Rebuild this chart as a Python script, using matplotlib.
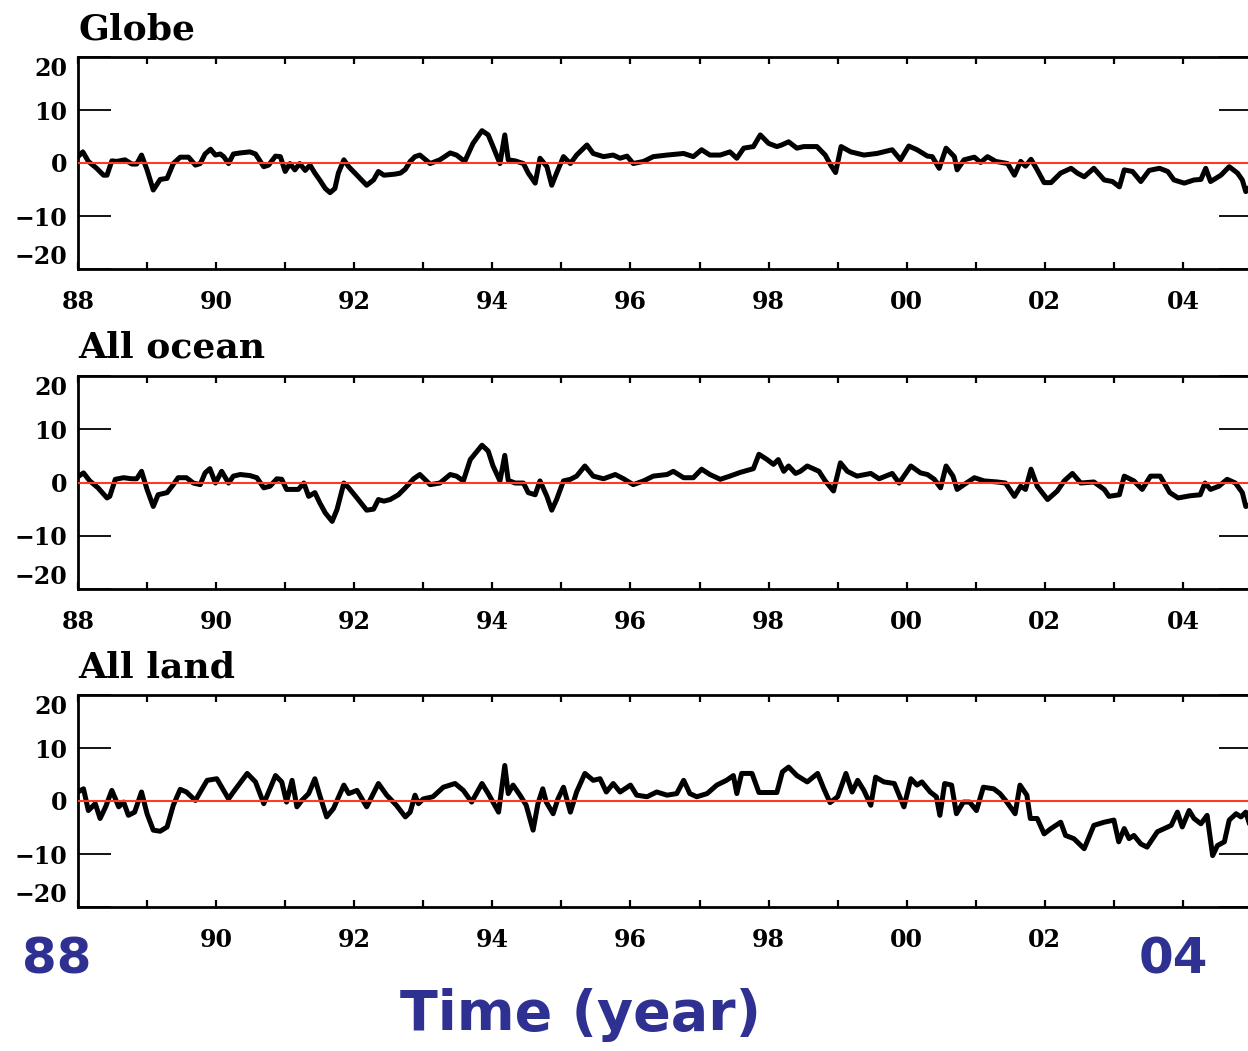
import matplotlib
matplotlib.use("Agg")
import matplotlib.pyplot as plt

# years are two-digit style: 88 = 1988, 100 = 2000, 104 = 2004
globe_t = [88.00, 88.07, 88.15, 88.27, 88.37, 88.42, 88.49, 88.56, 88.68, 88.78, 88.85, 88.92,
           89.00, 89.09, 89.19, 89.29, 89.38, 89.48, 89.60, 89.70, 89.77, 89.84, 89.92, 89.99,
           90.06, 90.11, 90.18, 90.25, 90.35, 90.49, 90.57, 90.69, 90.76, 90.86, 90.93,
           91.00, 91.07, 91.14, 91.21, 91.29, 91.36, 91.43, 91.50, 91.58, 91.65, 91.72, 91.77, 91.85, 91.92,
           92.04, 92.18, 92.28, 92.35, 92.43, 92.59, 92.67, 92.74, 92.81, 92.88, 92.95,
           93.10, 93.24, 93.39, 93.48, 93.60, 93.72, 93.85, 93.94,
           94.01, 94.11, 94.18, 94.23, 94.33, 94.45, 94.52, 94.62, 94.69, 94.79, 94.86, 94.93,
           95.03, 95.13, 95.22, 95.37, 95.46, 95.61, 95.75, 95.85, 95.95,
           96.04, 96.19, 96.33, 96.53, 96.77, 96.91, 97.03, 97.15, 97.30, 97.44, 97.54, 97.64, 97.78, 97.88,
           98.00, 98.12, 98.19, 98.29, 98.41, 98.51, 98.70, 98.82, 98.90, 98.97,
           99.05, 99.19, 99.38, 99.57, 99.79, 99.91,
           100.03, 100.15, 100.30, 100.37, 100.47, 100.57, 100.69, 100.73, 100.83, 100.98,
           101.07, 101.17, 101.29, 101.46, 101.56, 101.65, 101.72, 101.80, 101.89, 101.99,
           102.09, 102.23, 102.38, 102.47, 102.57, 102.71, 102.86, 102.98,
           103.08, 103.15, 103.27, 103.39, 103.51, 103.66, 103.78, 103.87,
           104.02, 104.16, 104.26, 104.33, 104.40, 104.55, 104.67, 104.79, 104.86, 104.91, 104.97]
globe_v = [1.2, 2.1, 0.3, -1.0, -2.3, -2.3, 0.4, 0.3, 0.6, -0.2, -0.2, 1.5,
           -1.3, -5.1, -3.1, -2.9, -0.1, 1.1, 1.1, -0.4, -0.1, 1.7, 2.6, 1.5,
           1.7, 1.2, -0.1, 1.7, 1.9, 2.1, 1.7, -0.7, -0.4, 1.3, 1.2,
           -1.6, -0.1, -1.3, -0.1, -1.4, -0.4, -1.9, -3.2, -4.8, -5.6, -4.8, -1.9, 0.6, -0.7,
           -2.3, -4.2, -3.2, -1.6, -2.3, -2.1, -1.9, -1.2, 0.3, 1.2, 1.5,
           -0.1, 0.6, 1.9, 1.5, 0.3, 3.7, 6.1, 5.3,
           3.1, -0.1, 5.3, 0.6, 0.4, -0.1, -1.9, -3.8, 0.9, -0.7, -4.2, -1.9,
           1.2, -0.1, 1.5, 3.4, 1.8, 1.2, 1.5, 0.9, 1.3,
           -0.1, 0.3, 1.2, 1.5, 1.8, 1.2, 2.5, 1.5, 1.5, 2.1, 0.9, 2.8, 3.1, 5.3,
           3.7, 3.1, 3.4, 4.0, 2.8, 3.1, 3.1, 1.5, -0.4, -1.8,
           3.1, 2.1, 1.5, 1.8, 2.5, 0.6,
           3.2, 2.5, 1.3, 1.2, -1.0, 2.8, 1.2, -1.3, 0.6, 1.1,
           0.1, 1.2, 0.3, -0.1, -2.3, 0.3, -0.6, 0.7, -1.3, -3.7,
           -3.7, -1.9, -1.0, -1.9, -2.6, -1.0, -3.2, -3.5,
           -4.5, -1.3, -1.6, -3.5, -1.4, -1.0, -1.6, -3.2,
           -3.8, -3.2, -3.1, -1.0, -3.5, -2.3, -0.7, -1.9, -3.2, -5.4, -4.5]

ocean_t = [88.00, 88.08, 88.17, 88.29, 88.42, 88.46, 88.54, 88.66, 88.78, 88.85, 88.92,
           89.00, 89.09, 89.16, 89.29, 89.38, 89.45, 89.57, 89.67, 89.77, 89.84, 89.91, 89.99,
           90.08, 90.18, 90.25, 90.35, 90.49, 90.59, 90.69, 90.78, 90.88, 90.95,
           91.02, 91.12, 91.19, 91.27, 91.34, 91.43, 91.50, 91.58, 91.68, 91.75, 91.85, 91.92,
           92.04, 92.18, 92.28, 92.35, 92.43, 92.52, 92.64, 92.74, 92.86, 92.95,
           93.10, 93.24, 93.39, 93.48, 93.58, 93.68, 93.85, 93.94,
           94.01, 94.11, 94.18, 94.23, 94.33, 94.45, 94.52, 94.62, 94.69, 94.79, 94.86, 94.93,
           95.03, 95.13, 95.22, 95.34, 95.46, 95.61, 95.78, 95.90,
           96.04, 96.19, 96.33, 96.53, 96.62, 96.77, 96.91, 97.03, 97.15, 97.30, 97.44, 97.59, 97.78, 97.86, 97.98,
           98.07, 98.14, 98.22, 98.29, 98.39, 98.46, 98.56, 98.73, 98.82, 98.94,
           99.04, 99.14, 99.28, 99.48, 99.60, 99.79, 99.89,
           100.06, 100.20, 100.30, 100.40, 100.49, 100.57, 100.67, 100.73, 100.83, 100.98,
           101.12, 101.31, 101.43, 101.56, 101.65, 101.72, 101.80, 101.89,
           102.04, 102.18, 102.28, 102.40, 102.52, 102.71, 102.86, 102.93,
           103.08, 103.15, 103.29, 103.41, 103.53, 103.67, 103.81, 103.93,
           104.10, 104.25, 104.32, 104.40, 104.52, 104.64, 104.76, 104.86, 104.91, 104.97]
ocean_v = [1.1, 1.8, 0.3, -1.0, -2.9, -2.6, 0.6, 0.9, 0.7, 0.7, 2.1,
           -1.3, -4.5, -2.3, -1.9, -0.4, 0.9, 0.9, -0.1, -0.4, 1.8, 2.6, -0.1,
           2.1, -0.1, 1.2, 1.5, 1.3, 0.9, -1.0, -0.7, 0.7, 0.6,
           -1.3, -1.3, -1.3, -0.1, -2.6, -1.9, -3.8, -5.7, -7.3, -5.1, -0.1, -1.0,
           -2.9, -5.2, -5.0, -3.2, -3.5, -3.2, -2.3, -1.0, 0.7, 1.5,
           -0.4, -0.1, 1.5, 1.2, 0.3, 4.3, 7.0, 5.9,
           3.1, 0.3, 5.1, 0.4, -0.1, -0.1, -1.9, -2.3, 0.3, -2.6, -5.2, -3.2,
           0.3, 0.6, 1.2, 3.1, 1.2, 0.7, 1.5, 0.7,
           -0.4, 0.3, 1.2, 1.5, 2.1, 0.9, 0.9, 2.5, 1.5, 0.6, 1.2, 1.9, 2.6, 5.3, 4.3,
           3.4, 4.3, 2.1, 3.1, 1.7, 2.1, 3.1, 2.1, 0.3, -1.6,
           3.7, 2.1, 1.2, 1.7, 0.7, 1.7, -0.1,
           3.1, 1.8, 1.5, 0.6, -1.0, 3.1, 1.2, -1.3, -0.4, 0.9,
           0.3, 0.1, -0.1, -2.6, -0.7, -1.3, 2.5, -0.7,
           -3.2, -1.6, 0.3, 1.7, -0.1, 0.1, -1.3, -2.6,
           -2.3, 1.2, 0.3, -1.3, 1.2, 1.2, -1.9, -2.9,
           -2.5, -2.3, -0.1, -1.3, -0.7, 0.6, -0.1, -1.9, -4.5, -4.2]

land_t = [88.00, 88.08, 88.15, 88.25, 88.32, 88.40, 88.49, 88.59, 88.66, 88.73, 88.82, 88.92,
          89.00, 89.09, 89.19, 89.29, 89.38, 89.48, 89.57, 89.70, 89.77, 89.87,
          90.01, 90.18, 90.25, 90.45, 90.57, 90.69, 90.86, 90.95,
          91.02, 91.10, 91.17, 91.24, 91.34, 91.43, 91.50, 91.60, 91.70, 91.85, 91.92,
          92.04, 92.18, 92.35, 92.47, 92.61, 92.74, 92.81, 92.88, 92.93,
          93.00, 93.14, 93.29, 93.46, 93.58, 93.70, 93.85, 93.94,
          94.09, 94.18, 94.23, 94.30, 94.40, 94.49, 94.59, 94.66, 94.73, 94.78, 94.88, 94.95,
          95.03, 95.13, 95.22, 95.34, 95.46, 95.56, 95.65, 95.75, 95.85,
          96.00, 96.09, 96.24, 96.38, 96.53, 96.67, 96.77, 96.86, 96.96,
          97.11, 97.25, 97.39, 97.49, 97.54, 97.61, 97.76, 97.86,
          98.03, 98.12, 98.20, 98.29, 98.41, 98.56, 98.71, 98.80, 98.89,
          99.00, 99.12, 99.21, 99.29, 99.38, 99.48, 99.55, 99.67, 99.82, 99.96,
          100.06, 100.15, 100.22, 100.34, 100.43, 100.48, 100.55, 100.65, 100.72, 100.82, 100.91,
          101.01, 101.11, 101.26, 101.35, 101.45, 101.57, 101.64, 101.74, 101.79, 101.89, 101.99,
          102.09, 102.23, 102.30, 102.42, 102.57, 102.71, 102.86,
          103.00, 103.07, 103.15, 103.22, 103.29, 103.39, 103.48, 103.63, 103.73, 103.83, 103.92, 103.99,
          104.09, 104.16, 104.26, 104.35, 104.43, 104.50, 104.60, 104.67, 104.77, 104.84, 104.91, 104.97]
land_v = [1.7, 2.3, -1.8, -0.5, -3.3, -1.1, 2.0, -1.1, -0.2, -2.7, -2.1, 1.7,
          -2.4, -5.5, -5.7, -4.9, -0.8, 2.2, 1.7, 0.1, 1.7, 3.9,
          4.2, 0.4, 1.7, 5.2, 3.6, -0.5, 4.8, 3.6,
          -0.2, 3.9, -1.1, 0.1, 1.4, 4.2, 1.1, -3.0, -1.4, 3.0, 1.4,
          2.0, -1.1, 3.3, 1.1, -0.8, -3.0, -2.1, 1.1, -0.5,
          0.4, 0.8, 2.6, 3.3, 2.0, -0.2, 3.3, 1.4,
          -2.1, 6.7, 1.4, 3.0, 1.1, -0.8, -5.5, -0.5, 2.3, -0.2, -2.4, 0.4,
          2.6, -2.1, 1.7, 5.2, 3.9, 4.2, 1.7, 3.3, 1.7,
          3.0, 1.1, 0.8, 1.7, 1.1, 1.4, 3.9, 1.4, 0.8,
          1.4, 3.0, 3.9, 4.8, 1.4, 5.2, 5.2, 1.6,
          1.6, 1.6, 5.5, 6.4, 4.8, 3.6, 5.2, 2.3, -0.3,
          0.8, 5.2, 1.7, 3.9, 2.0, -0.8, 4.5, 3.6, 3.3, -1.1,
          4.2, 3.0, 3.6, 1.7, 0.8, -2.7, 3.3, 3.0, -2.4, -0.2, -0.2,
          -1.8, 2.6, 2.3, 1.4, -0.2, -2.4, 3.0, 1.1, -3.3, -3.3, -6.2,
          -5.2, -4.0, -6.5, -7.1, -9.0, -4.6, -4.0,
          -3.6, -7.7, -5.2, -7.1, -6.5, -8.1, -8.7, -5.8, -5.2, -4.6, -2.1, -4.9,
          -1.8, -3.3, -4.3, -2.7, -10.3, -8.4, -7.7, -3.6, -2.4, -3.0, -2.1, -4.6]

titles = ["Globe", "All ocean", "All land"]
series = [(globe_t, globe_v), (ocean_t, ocean_v), (land_t, land_v)]
year_ticks = [88, 90, 92, 94, 96, 98, 100, 102, 104]
year_labels = ["88", "90", "92", "94", "96", "98", "00", "02", "04"]
y_ticks = [-20, -10, 0, 10, 20]

W, H = 1248, 1051
fig = plt.figure(figsize=(W / 100, H / 100), dpi=100)

# axes boxes in pixels: (top, bottom)
boxes = [(57, 269), (376, 589), (695, 907)]
title_base = [39, 358, 677]
left_px, right_px = 78, 1252

for i, (ttl, (t, v)) in enumerate(zip(titles, series)):
    top, bot = boxes[i]
    ax = fig.add_axes([left_px / W, 1 - bot / H, (right_px - left_px) / W, (bot - top) / H])
    ax.plot(t, v, color="black", lw=3.6, solid_joinstyle="round", zorder=2)
    ax.axhline(0, color="#ff3a1e", lw=1.5, zorder=3)
    ax.set_xlim(88, 105)
    ax.set_ylim(-20, 20)
    for s in ax.spines.values():
        s.set_linewidth(2.0)
    ax.set_xticks(year_ticks)
    ax.set_xticks(range(89, 105, 2), minor=True)
    if i == 2:
        ax.set_xticklabels([""] + year_labels[1:-1] + [""])
    else:
        ax.set_xticklabels(year_labels)
    ax.tick_params(axis="x", which="both", direction="in", top=True, length=5, width=1.6, pad=15)
    ax.set_yticks(y_ticks)
    ax.set_yticklabels(["\u221220", "\u221210", "0", "10", "20"])
    ax.tick_params(axis="y", direction="in", right=True, length=24, width=1.3, pad=8)
    for lab in ax.get_xticklabels() + ax.get_yticklabels():
        lab.set_fontfamily("DejaVu Serif")
        lab.set_fontweight("bold")
        lab.set_fontsize(17)
    ylabs = ax.get_yticklabels()
    ylabs[0].set_va("bottom")
    ylabs[-1].set_va("top")
    fig.text(left_px / W, 1 - title_base[i] / H, ttl, family="DejaVu Serif",
             size=26, weight="bold", va="baseline", ha="left")

blue = "#2e3192"
fig.text(57 / W, 1 - 960 / H, "88", color=blue, size=36, weight="bold",
         family="DejaVu Sans", ha="center", va="center")
fig.text(1173 / W, 1 - 960 / H, "04", color=blue, size=36, weight="bold",
         family="DejaVu Sans", ha="center", va="center")
fig.text(580 / W, 1 - 1015 / H, "Time (year)", color=blue, size=40, weight="bold",
         family="DejaVu Sans", ha="center", va="center")

fig.savefig("out.png", dpi=100)
